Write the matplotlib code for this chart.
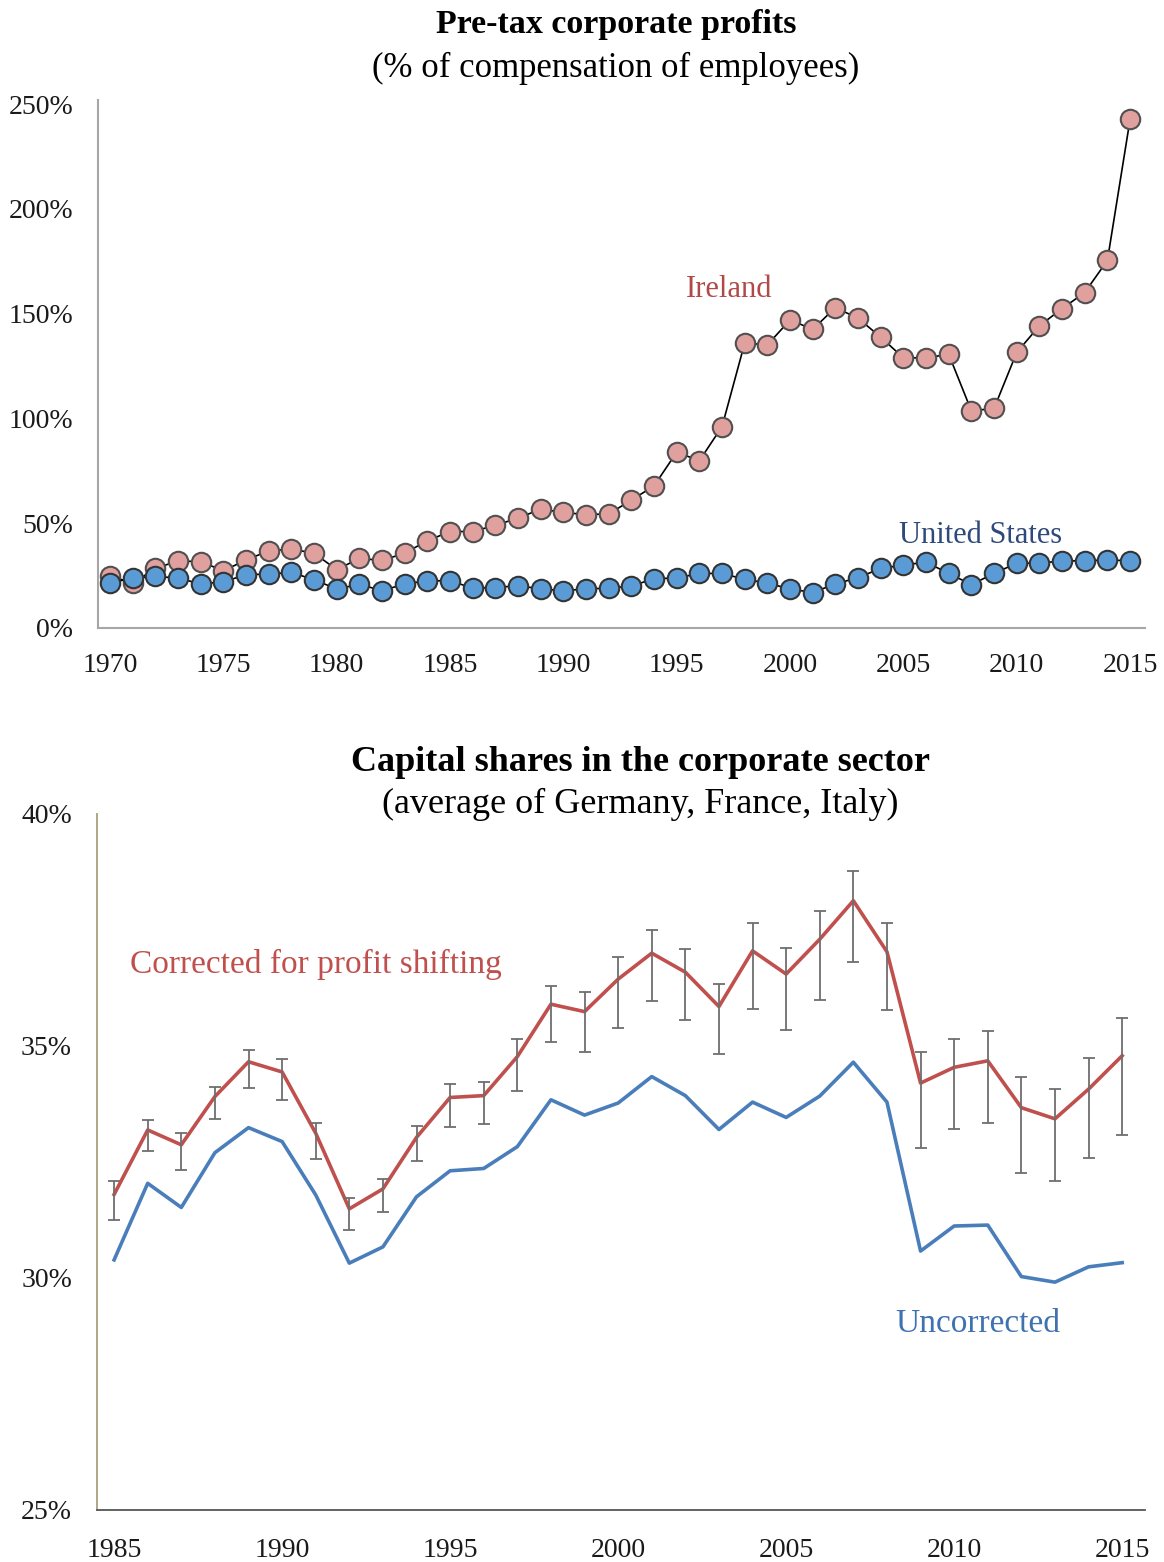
import numpy as np
import matplotlib
matplotlib.use('Agg')
import matplotlib.pyplot as plt

plt.rcParams['font.family'] = ['Liberation Serif', 'DejaVu Serif']

# Top panel: pre-tax corporate profits, % of compensation of employees
years_top = list(range(1970, 2016))
ireland = [24.9, 21.3, 28.4, 32.0, 31.6, 27.3, 32.4, 36.8, 37.6, 35.7,
           27.8, 33.2, 32.2, 35.7, 41.6, 46.0, 46.0, 49.0, 52.4, 56.7,
           55.1, 54.1, 54.4, 61.0, 67.8, 83.9, 79.8, 96.1, 136.0, 135.1,
           147.0, 142.5, 152.9, 147.8, 138.8, 128.9, 128.9, 130.6, 103.6, 104.8,
           131.5, 144.2, 152.4, 160.1, 175.4, 242.7]
united_states = [21.4, 23.8, 24.6, 23.8, 21.0, 22.0, 25.4, 25.7, 26.5, 23.0,
                 18.6, 20.8, 17.8, 21.0, 22.5, 22.5, 19.0, 19.2, 20.2, 18.6,
                 17.8, 18.6, 19.0, 20.0, 23.5, 23.8, 26.0, 26.0, 23.2, 21.4,
                 18.6, 16.9, 21.0, 24.0, 28.4, 30.0, 31.4, 26.0, 20.7, 26.0,
                 30.9, 30.9, 32.0, 32.0, 32.5, 32.0]
top_yticks = [0, 50, 100, 150, 200, 250]
top_xticks = list(range(1970, 2016, 5))

# Bottom panel: capital shares in the corporate sector (%)
years_bot = list(range(1985, 2016))
corrected = [31.80, 33.19, 32.87, 33.91, 34.66, 34.44, 33.12, 31.49, 31.92, 33.03,
             33.89, 33.93, 34.77, 35.90, 35.74, 36.44, 37.00, 36.59, 35.85, 37.05,
             36.55, 37.30, 38.13, 37.03, 34.20, 34.54, 34.68, 33.67, 33.43, 34.07,
             34.79]
corrected_hi = [32.08, 33.41, 33.12, 34.11, 34.92, 34.71, 33.35, 31.72, 32.13, 33.28,
                34.18, 34.23, 35.14, 36.29, 36.16, 36.91, 37.50, 37.08, 36.34, 37.64,
                37.12, 37.91, 38.77, 37.64, 34.86, 35.16, 35.33, 34.33, 34.07, 34.74,
                35.60]
corrected_lo = [31.25, 32.74, 32.33, 33.42, 34.10, 33.84, 32.56, 31.03, 31.43, 32.53,
                33.26, 33.32, 34.02, 35.09, 34.87, 35.38, 35.97, 35.55, 34.82, 35.79,
                35.35, 35.99, 36.80, 35.78, 32.81, 33.22, 33.33, 32.26, 32.08, 32.59,
                33.09]
uncorrected = [30.39, 32.04, 31.52, 32.70, 33.24, 32.94, 31.79, 30.32, 30.67, 31.75,
               32.31, 32.36, 32.83, 33.84, 33.51, 33.77, 34.34, 33.93, 33.20, 33.79,
               33.46, 33.92, 34.65, 33.79, 30.58, 31.12, 31.14, 30.03, 29.91, 30.24,
               30.33]
bot_yticks = [25, 30, 35, 40]
bot_xticks = list(range(1985, 2016, 5))

fig = plt.figure(figsize=(11.64, 15.62), dpi=100)
tick_fs = 20

# ---- top chart ----
ax1 = fig.add_axes([0.0842, 0.598, 0.8995, 0.338])
ax1.plot(years_top, ireland, color='black', lw=1.2, marker='o', ms=14,
         mfc='#e0a09e', mec='#505050', mew=1.5, zorder=3)
ax1.plot(years_top, united_states, color='black', lw=1.2, marker='o', ms=14,
         mfc='#5b9bd5', mec='#333333', mew=1.5, zorder=4)
ax1.set_xlim(1969.47, 2015.66)
ax1.set_ylim(0, 252)
ax1.set_yticks(top_yticks)
ax1.set_yticklabels([f'{v}%' for v in top_yticks])
ax1.set_xticks(top_xticks)
for s in ['top', 'right']:
    ax1.spines[s].set_visible(False)
for s in ['left', 'bottom']:
    ax1.spines[s].set_color('#a6a6a6')
    ax1.spines[s].set_linewidth(1.5)
ax1.tick_params(length=0, labelsize=tick_fs, colors='#1a1a1a')
ax1.tick_params(axis='y', pad=18)
ax1.tick_params(axis='x', pad=18)
ax1.text(1997.3, 161.5, 'Ireland', color='#b04a4a', fontsize=22, ha='center', va='center')
ax1.text(2008.4, 44, 'United States', color='#2e4a7a', fontsize=22, ha='center', va='center')

fig.text(0.529, 0.984, 'Pre-tax corporate profits', fontsize=24.5, fontweight='bold',
         ha='center', va='center')
fig.text(0.529, 0.956, '(% of compensation of employees)', fontsize=25,
         ha='center', va='center')

# ---- bottom chart ----
ax2 = fig.add_axes([0.0833, 0.0333, 0.9004, 0.4456])
ax2.errorbar(years_bot, corrected,
             yerr=[np.array(corrected) - np.array(corrected_lo),
                   np.array(corrected_hi) - np.array(corrected)],
             fmt='none', ecolor='#6e6e6e', elinewidth=1.3, capsize=4, capthick=1.3, zorder=3)
ax2.plot(years_bot, corrected, color='#c0504d', lw=2.6, zorder=2)
ax2.plot(years_bot, uncorrected, color='#4a7ebb', lw=2.6, zorder=2)
ax2.set_xlim(1984.49, 2015.68)
ax2.set_ylim(25, 40)
ax2.set_yticks(bot_yticks)
ax2.set_yticklabels([f'{v}%' for v in bot_yticks])
ax2.set_xticks(bot_xticks)
for s in ['top', 'right']:
    ax2.spines[s].set_visible(False)
ax2.spines['left'].set_color('#a89f7c')
ax2.spines['bottom'].set_color('#555555')
ax2.spines['left'].set_linewidth(1.3)
ax2.spines['bottom'].set_linewidth(1.3)
ax2.tick_params(length=0, labelsize=tick_fs, colors='#1a1a1a')
ax2.tick_params(axis='y', pad=18)
ax2.tick_params(axis='x', pad=20)
ax2.text(1991.0, 36.75, 'Corrected for profit shifting', color='#c0504d', fontsize=24,
         ha='center', va='center')
ax2.text(2010.7, 29.02, 'Uncorrected', color='#3f72b0', fontsize=24,
         ha='center', va='center')

fig.text(0.55, 0.512, 'Capital shares in the corporate sector', fontsize=26,
         fontweight='bold', ha='center', va='center')
fig.text(0.55, 0.485, '(average of Germany, France, Italy)', fontsize=26,
         ha='center', va='center')

fig.savefig('out.png', dpi=100)
